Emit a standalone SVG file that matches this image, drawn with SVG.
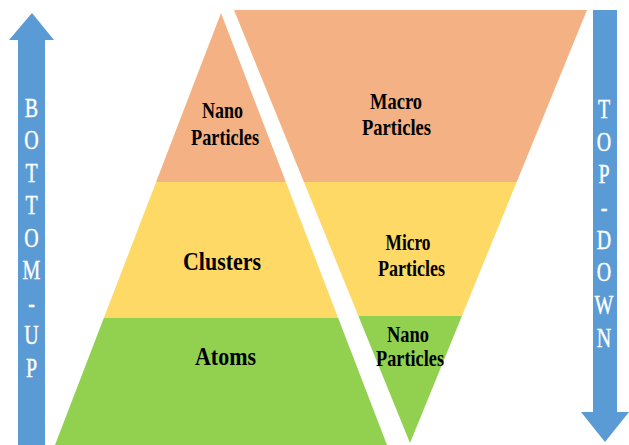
<svg xmlns="http://www.w3.org/2000/svg" width="629" height="445" viewBox="0 0 629 445">
<style>
.org{fill:#F4B183}
.yel{fill:#FFD966}
.grn{fill:#92D050}
.arr{fill:#5B9BD5}
.lbl{font-family:"Liberation Serif","Times New Roman",serif;font-weight:bold;fill:#000;text-anchor:middle}
.let{font-family:"Liberation Serif","Times New Roman",serif;font-size:27px;fill:#fff;text-anchor:middle;stroke:#fff;stroke-width:0.4}
</style>
<rect width="629" height="445" fill="#fff"/>
<g id="arrow-bottom-up">
<polygon class="arr" points="32,13 54,40 45,40 45,445 18,445 18,40 9,40"/>
<g transform="translate(31.5 0) scale(0.74 1)">
<text class="let"><tspan x="0" y="117">B</tspan><tspan x="0" y="149.5">O</tspan><tspan x="0" y="182">T</tspan><tspan x="0" y="214.5">T</tspan><tspan x="0" y="247">O</tspan><tspan x="0" y="279.5">M</tspan><tspan x="0" y="312">-</tspan><tspan x="0" y="344.5">U</tspan><tspan x="0" y="377">P</tspan></text>
</g>
</g>
<g id="arrow-top-down">
<polygon class="arr" points="593,10 617,10 617,412 629,412 605,442 581,412 593,412"/>
<g transform="translate(604 0) scale(0.74 1)">
<text class="let"><tspan x="0" y="118">T</tspan><tspan x="0" y="150.7">O</tspan><tspan x="0" y="183.4">P</tspan><tspan x="0" y="216">-</tspan><tspan x="0" y="248.8">D</tspan><tspan x="0" y="281.5">O</tspan><tspan x="0" y="314">W</tspan><tspan x="0" y="347">N</tspan></text>
</g>
</g>
<g id="pyr-nano">
<polygon class="org" points="221,13 285.9,182 156.1,182"/>
<text class="lbl" font-size="23"><tspan x="222.5" y="118" textLength="41" lengthAdjust="spacingAndGlyphs">Nano</tspan><tspan x="225" y="145" textLength="68" lengthAdjust="spacingAndGlyphs">Particles</tspan></text>
</g>
<g id="pyr-clusters">
<polygon class="yel" points="156.1,182 285.9,182 338.2,318 103.8,318"/>
<text class="lbl" font-size="26" x="222" y="270" textLength="78" lengthAdjust="spacingAndGlyphs">Clusters</text>
</g>
<g id="pyr-atoms">
<polygon class="grn" points="103.8,318 338.2,318 387,445 55,445"/>
<text class="lbl" font-size="26" x="225.5" y="365" textLength="61" lengthAdjust="spacingAndGlyphs">Atoms</text>
</g>
<g id="inv-macro">
<polygon class="org" points="234,10 587,10 516.7,182 303.9,182"/>
<text class="lbl" font-size="23"><tspan x="396" y="109" textLength="52" lengthAdjust="spacingAndGlyphs">Macro</tspan><tspan x="396.5" y="135" textLength="69" lengthAdjust="spacingAndGlyphs">Particles</tspan></text>
</g>
<g id="inv-micro">
<polygon class="yel" points="303.9,182 516.7,182 461.9,316 358.4,316"/>
<text class="lbl" font-size="23"><tspan x="408" y="250" textLength="45" lengthAdjust="spacingAndGlyphs">Micro</tspan><tspan x="411.5" y="276" textLength="67" lengthAdjust="spacingAndGlyphs">Particles</tspan></text>
</g>
<g id="inv-nano">
<polygon class="grn" points="358.4,316 461.9,316 410,443"/>
<text class="lbl" font-size="23"><tspan x="408" y="342" textLength="42" lengthAdjust="spacingAndGlyphs">Nano</tspan><tspan x="410" y="366" textLength="68" lengthAdjust="spacingAndGlyphs">Particles</tspan></text>
</g>
</svg>
